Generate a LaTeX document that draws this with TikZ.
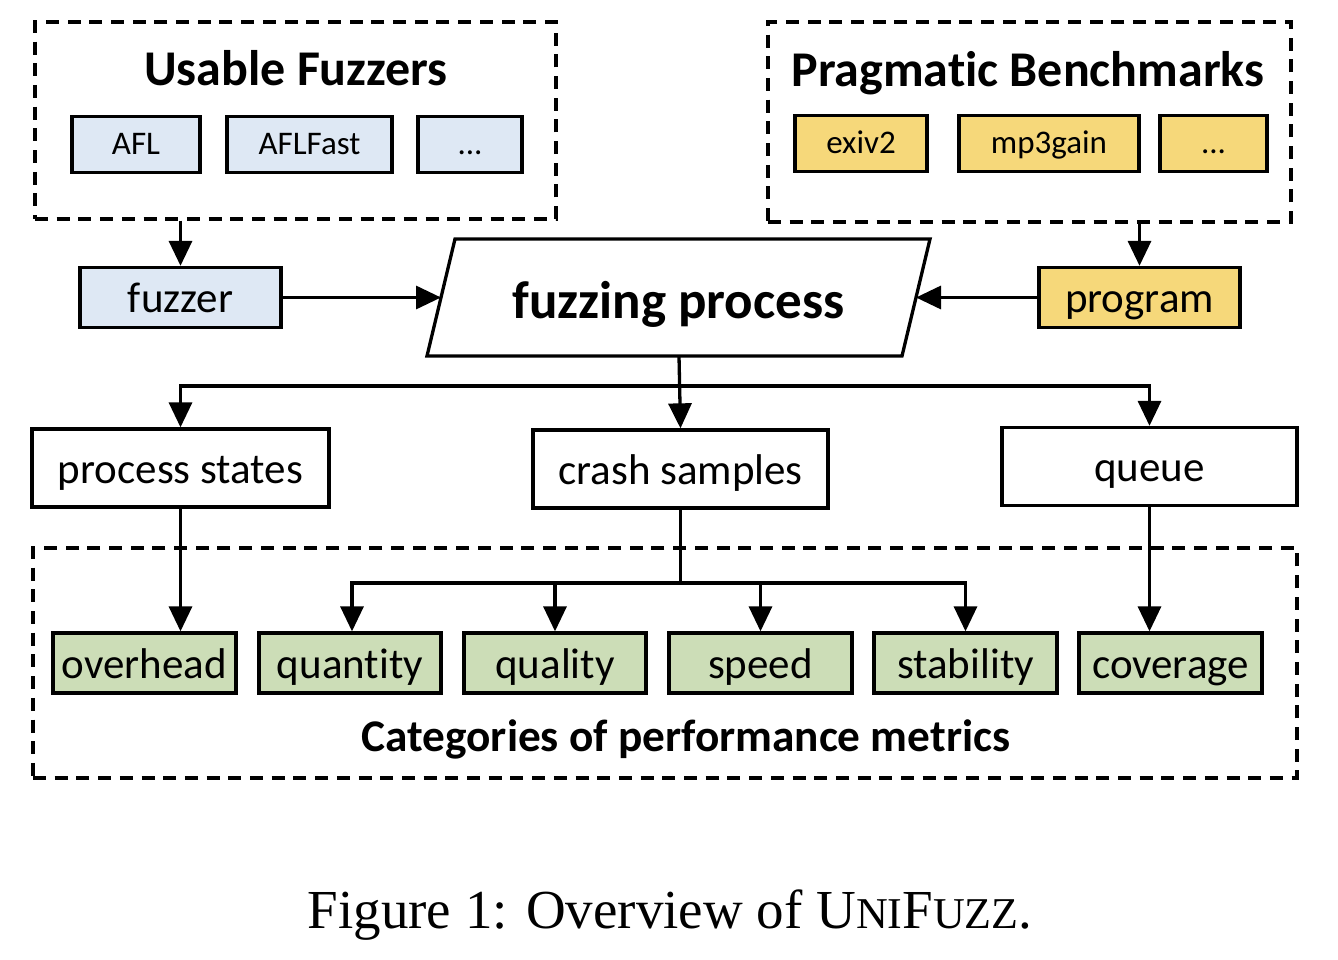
\documentclass[tikz,border=0pt]{standalone}
\usepackage{fontspec}
\setmainfont{Carlito}[Ligatures=NoCommon]
\newfontfamily\capfont{Liberation Serif}
\usetikzlibrary{arrows.meta}
\definecolor{fblue}{HTML}{DEE8F4}
\definecolor{fyellow}{HTML}{F6D87A}
\definecolor{fgreen}{HTML}{CCDDB7}
\tikzset{
  lw/.style={line width=3.3pt},
  box/.style={draw, lw, inner sep=0pt, minimum width=#1, text height=30pt, text depth=0pt},
  smallbox/.style={box=#1, minimum height=56pt, font=\fontsize{33}{40}\selectfont, text height=21pt},
  bigbox/.style={box=#1, font=\fontsize{43}{50}\selectfont},
  dashbox/.style={draw, lw, dash pattern=on 13pt off 8.7pt, inner sep=0pt},
  title/.style={font=\fontsize{50}{60}\selectfont\bfseries, inner sep=0pt, text height=35pt, text depth=0pt},
  arr/.style={lw, -{Triangle[length=25pt,width=23pt]}},
  con/.style={lw},
}
\begin{document}
\begin{tikzpicture}[x=1pt,y=-1pt]
\useasboundingbox (0,0) rectangle (1338,960);

% Usable Fuzzers
\node[dashbox, minimum width=521pt, minimum height=197pt] (ufbox) at (295.5,120.5) {};
\node[title] (uftitle) at (296,68) {Usable Fuzzers};
\node[smallbox=128pt, fill=fblue] (afl) at (136,144.5) {AFL};
\node[smallbox=165pt, fill=fblue] (aflfast) at (309.5,144.5) {AFLFast};
\node[smallbox=104pt, fill=fblue] (fdots) at (470,144.5) {...};

% Pragmatic Benchmarks
\node[dashbox, minimum width=523pt, minimum height=200pt] (pbbox) at (1029.5,122) {};
\node[title] (pbtitle) at (1028,69) {Pragmatic Benchmarks};
\node[smallbox=132pt, fill=fyellow] (exiv) at (861,143.5) {exiv2};
\node[smallbox=180pt, fill=fyellow] (mpg) at (1049,143.5) {mp3gain};
\node[smallbox=107pt, fill=fyellow] (bdots) at (1213.5,143.5) {...};

% middle row
\node[bigbox=201pt, minimum height=60pt, fill=fblue] (fuzzer) at (180.5,297.5) {fuzzer};
\node[bigbox=201pt, minimum height=60pt, fill=fyellow] (program) at (1139.5,297.5) {program};
\draw[lw, line join=miter] (427,356) -- (455,239) -- (930,239) -- (902,356) -- cycle;
\node[font=\fontsize{53}{60}\selectfont\bfseries, inner sep=0pt, text height=37pt, text depth=0pt] (fp) at (678.5,300) {fuzzing process};
\coordinate (fpL) at (441,297.5);
\coordinate (fpR) at (916,297.5);
\coordinate (fpB) at (679,356);

% outputs
\node[bigbox=297pt, minimum height=78pt] (pstates) at (180.5,468) {process states};
\node[bigbox=295pt, minimum height=78pt] (crash) at (680.5,469) {crash samples};
\node[bigbox=295pt, minimum height=78pt] (queue) at (1149.5,466.5) {queue};
\coordinate (bus) at (679,386);

% categories
\node[dashbox, minimum width=1264pt, minimum height=230pt] (catbox) at (665,663) {};
\node[bigbox=183pt, minimum height=60pt, fill=fgreen] (overhead) at (144.5,663) {overhead};
\node[bigbox=182pt, minimum height=60pt, fill=fgreen] (quantity) at (350,663) {quantity};
\node[bigbox=182pt, minimum height=60pt, fill=fgreen] (quality) at (555,663) {quality};
\node[bigbox=183pt, minimum height=60pt, fill=fgreen] (speed) at (760.5,663) {speed};
\node[bigbox=183pt, minimum height=60pt, fill=fgreen] (stability) at (965.5,663) {stability};
\node[bigbox=183pt, minimum height=60pt, fill=fgreen] (coverage) at (1170.5,663) {coverage};
\node[font=\fontsize{45.3}{54}\selectfont\bfseries, inner sep=0pt, text height=31.7pt, text depth=0pt] (cattitle) at (686,736) {Categories of performance metrics};
\coordinate (cb) at (680.5,583);

% connectors
\draw[arr] (fuzzer.north |- ufbox.south) -- (fuzzer.north);
\draw[arr] (program.north |- pbbox.south) -- (program.north);
\draw[arr] (fuzzer.east) -- (fpL);
\draw[arr] (program.west) -- (fpR);
\draw[arr] (fpB) -- (crash.north);
\draw[con] (bus -| pstates.north) -- (bus -| queue.north);
\draw[arr] (bus) -| (pstates.north);
\draw[arr] (bus) -| (queue.north);
\draw[arr] (pstates.south) -- (pstates.south |- overhead.north);
\draw[con] (crash.south) -- (cb);
\draw[arr] (cb) -| ([xshift=2pt]quantity.north);
\draw[arr] (cb) -| (quality.north);
\draw[arr] (cb) -| (speed.north);
\draw[arr] (cb) -| (stability.north);
\draw[arr] (queue.south) -- (queue.south |- coverage.north);

% caption
\node[font=\capfont\fontsize{55}{64}\selectfont, anchor=base, inner sep=0pt] (caption) at (670,928)
  {Figure 1: Overview of U{\fontsize{44}{50}\selectfont NI}F{\fontsize{44}{50}\selectfont UZZ}.};
\end{tikzpicture}
\end{document}
